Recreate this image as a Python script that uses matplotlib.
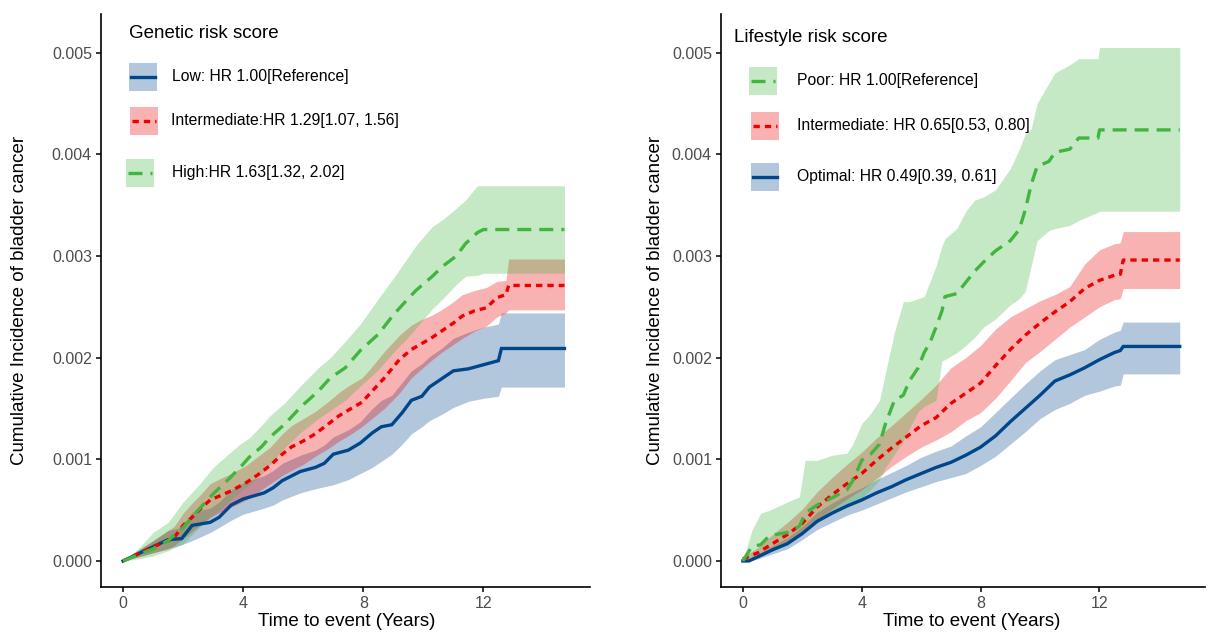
import matplotlib
matplotlib.use("Agg")
import matplotlib.pyplot as plt
from matplotlib.patches import Rectangle
from matplotlib.lines import Line2D

plt.rcParams['font.family'] = ['Liberation Sans', 'DejaVu Sans']

# colours (lancet palette)
BLUE = '#00468B'
RED = '#ED0000'
GREEN = '#42B540'

# ---- data, cumulative incidence in units of 0.001 ----
# Genetic risk score
gen_low_t = [0, 0.5, 1.0, 1.5, 1.95, 2.3, 2.9, 3.2, 3.6, 4.0, 4.7, 5.0, 5.3, 5.9, 6.4, 6.7,
             7.0, 7.5, 7.9, 8.3, 8.6, 8.95, 9.3, 9.6, 9.95, 10.2, 10.6, 11.0, 11.5, 12.0,
             12.5, 12.6, 14.7]
gen_low = [0, 0.07, 0.14, 0.21, 0.22, 0.35, 0.38, 0.43, 0.55, 0.61, 0.67, 0.72, 0.79, 0.88,
           0.92, 0.96, 1.05, 1.09, 1.16, 1.26, 1.32, 1.34, 1.46, 1.58, 1.62, 1.71, 1.79, 1.87,
           1.89, 1.93, 1.97, 2.09, 2.09]
gen_low_lo = [0, 0.04, 0.08, 0.12, 0.16, 0.20, 0.28, 0.33, 0.40, 0.46, 0.52, 0.55, 0.60, 0.67,
              0.71, 0.73, 0.75, 0.80, 0.86, 0.92, 0.98, 1.05, 1.15, 1.25, 1.32, 1.38, 1.44, 1.51,
              1.57, 1.60, 1.62, 1.71, 1.71]
gen_low_hi = [0, 0.11, 0.20, 0.30, 0.33, 0.48, 0.52, 0.58, 0.70, 0.77, 0.84, 0.89, 0.96, 1.04,
              1.09, 1.14, 1.22, 1.29, 1.37, 1.50, 1.58, 1.63, 1.76, 1.87, 1.94, 2.01, 2.09, 2.19,
              2.25, 2.30, 2.33, 2.44, 2.44]

gen_int_t = [0, 0.5, 1.0, 1.5, 1.7, 2.0, 2.3, 2.6, 2.9, 3.3, 3.6, 4.1, 4.5, 4.9, 5.3, 5.6, 6.0,
             6.4, 6.8, 7.2, 7.6, 7.95, 8.2, 8.7, 9.2, 9.6, 9.9, 10.3, 10.6, 11.0, 11.3, 11.7,
             12.1, 12.45, 12.75, 12.84, 14.7]
gen_int = [0, 0.07, 0.14, 0.20, 0.23, 0.35, 0.43, 0.52, 0.60, 0.65, 0.69, 0.77, 0.85, 0.94,
           1.05, 1.12, 1.18, 1.25, 1.34, 1.43, 1.50, 1.56, 1.64, 1.80, 1.98, 2.08, 2.13, 2.20,
           2.26, 2.34, 2.41, 2.46, 2.49, 2.59, 2.62, 2.71, 2.71]
gen_int_lo = [0, 0.04, 0.08, 0.12, 0.15, 0.22, 0.29, 0.36, 0.43, 0.49, 0.53, 0.60, 0.68, 0.76,
              0.84, 0.89, 0.95, 1.03, 1.10, 1.18, 1.25, 1.32, 1.38, 1.50, 1.65, 1.80, 1.88, 1.98,
              2.05, 2.13, 2.19, 2.26, 2.31, 2.40, 2.44, 2.47, 2.47]
gen_int_hi = [0, 0.10, 0.20, 0.30, 0.34, 0.47, 0.57, 0.66, 0.76, 0.82, 0.86, 0.94, 1.03, 1.12,
              1.25, 1.33, 1.40, 1.47, 1.56, 1.66, 1.74, 1.80, 1.88, 2.06, 2.22, 2.32, 2.37, 2.42,
              2.47, 2.55, 2.62, 2.66, 2.69, 2.75, 2.76, 2.97, 2.97]

gen_high_t = [0, 0.5, 1.0, 1.5, 2.0, 2.5, 3.0, 3.5, 3.9, 4.2, 4.6, 4.9, 5.4, 5.9, 6.5, 6.9,
              7.4, 7.9, 8.5, 9.0, 9.4, 9.75, 10.3, 10.65, 11.1, 11.4, 11.8, 12.0, 14.7]
gen_high = [0, 0.06, 0.12, 0.20, 0.33, 0.50, 0.66, 0.80, 0.92, 1.02, 1.12, 1.22, 1.35, 1.51,
            1.67, 1.80, 1.90, 2.07, 2.23, 2.42, 2.55, 2.66, 2.80, 2.90, 3.00, 3.12, 3.23, 3.26,
            3.26]
gen_high_lo = [0, 0.02, 0.05, 0.10, 0.17, 0.32, 0.45, 0.58, 0.68, 0.75, 0.85, 0.95, 1.12, 1.26,
               1.40, 1.48, 1.58, 1.72, 1.88, 2.05, 2.17, 2.29, 2.48, 2.58, 2.72, 2.80, 2.81, 2.83,
               2.83]
gen_high_hi = [0, 0.12, 0.28, 0.38, 0.58, 0.74, 0.92, 1.05, 1.15, 1.21, 1.33, 1.43, 1.56, 1.72,
               1.90, 2.00, 2.16, 2.33, 2.58, 2.78, 2.95, 3.10, 3.29, 3.36, 3.47, 3.55, 3.69, 3.69,
               3.69]

gen_labels = ['Low: HR 1.00[Reference]',
              'Intermediate:HR 1.29[1.07, 1.56]',
              'High:HR 1.63[1.32, 2.02]']

# Lifestyle risk score
life_opt_t = [0, 0.2, 0.5, 1, 1.5, 2, 2.5, 3, 3.5, 4, 4.5, 5, 5.5, 6, 6.5, 7, 7.5, 8, 8.5, 9,
              9.5, 10, 10.5, 11, 11.5, 12, 12.5, 12.7, 12.8, 14.7]
life_opt = [0, 0, 0.04, 0.11, 0.17, 0.27, 0.39, 0.47, 0.54, 0.60, 0.67, 0.73, 0.80, 0.86, 0.92,
            0.97, 1.04, 1.12, 1.23, 1.37, 1.50, 1.63, 1.77, 1.83, 1.90, 1.98, 2.05, 2.07, 2.11,
            2.11]
life_opt_lo = [0, 0, 0.02, 0.07, 0.12, 0.21, 0.31, 0.38, 0.45, 0.50, 0.56, 0.62, 0.68, 0.73,
               0.78, 0.82, 0.86, 0.94, 1.03, 1.15, 1.27, 1.40, 1.49, 1.55, 1.63, 1.67, 1.72,
               1.73, 1.84, 1.84]
life_opt_hi = [0, 0.02, 0.07, 0.15, 0.23, 0.34, 0.48, 0.57, 0.65, 0.72, 0.80, 0.87, 0.94, 1.02,
               1.08, 1.13, 1.23, 1.32, 1.46, 1.60, 1.74, 1.87, 1.98, 2.03, 2.08, 2.18, 2.25,
               2.27, 2.35, 2.35]

life_int_t = [0, 0.5, 1, 1.5, 2, 2.5, 3, 3.5, 4, 4.5, 5, 5.5, 6, 6.5, 7, 7.5, 8, 8.5, 9,
              9.5, 10, 10.5, 11, 11.5, 12, 12.5, 12.7, 12.8, 14.7]
life_int = [0.02, 0.08, 0.17, 0.26, 0.37, 0.53, 0.65, 0.76, 0.86, 0.99, 1.11, 1.22, 1.33, 1.41,
            1.55, 1.65, 1.75, 1.92, 2.08, 2.22, 2.34, 2.45, 2.55, 2.68, 2.76, 2.81, 2.82, 2.96,
            2.96]
life_int_lo = [0, 0.04, 0.10, 0.17, 0.26, 0.40, 0.51, 0.61, 0.70, 0.81, 0.93, 1.03, 1.12, 1.19,
               1.27, 1.38, 1.46, 1.60, 1.77, 1.95, 2.06, 2.18, 2.30, 2.40, 2.50, 2.57, 2.58,
               2.68, 2.68]
life_int_hi = [0.04, 0.13, 0.26, 0.38, 0.51, 0.68, 0.82, 0.95, 1.07, 1.21, 1.33, 1.46, 1.59,
               1.73, 1.90, 2.00, 2.12, 2.28, 2.40, 2.48, 2.56, 2.62, 2.70, 2.92, 3.06, 3.12,
               3.13, 3.24, 3.24]

life_poor_t = [0, 0.3, 0.6, 0.9, 1.5, 1.9, 2.1, 2.5, 3, 3.5, 3.7, 4, 4.3, 4.6, 4.8, 5.1, 5.4,
               5.6, 5.9, 6.1, 6.3, 6.5, 6.7, 6.8, 7.2, 7.5, 7.8, 8.1, 8.5, 9.0, 9.3, 9.5, 9.7,
               9.9, 10.3, 10.5, 11.0, 11.3, 11.95, 12.0, 14.7]
life_poor = [0, 0.14, 0.16, 0.25, 0.28, 0.34, 0.47, 0.55, 0.62, 0.70, 0.79, 0.99, 1.05, 1.15,
             1.35, 1.58, 1.63, 1.77, 1.90, 2.05, 2.15, 2.30, 2.46, 2.60, 2.63, 2.74, 2.85, 2.94,
             3.05, 3.15, 3.26, 3.45, 3.70, 3.88, 3.93, 4.02, 4.05, 4.16, 4.16, 4.24, 4.24]
life_poor_lo = [0, 0.03, 0.06, 0.10, 0.18, 0.27, 0.31, 0.40, 0.48, 0.55, 0.58, 0.62, 0.70, 0.80,
                0.92, 1.05, 1.18, 1.30, 1.47, 1.52, 1.55, 1.58, 1.97, 1.98, 2.05, 2.12, 2.20, 2.30,
                2.38, 2.52, 2.58, 2.65, 2.90, 3.15, 3.25, 3.27, 3.30, 3.35, 3.43, 3.44, 3.44]
life_poor_hi = [0, 0.30, 0.47, 0.50, 0.58, 0.63, 0.99, 0.99, 1.04, 1.06, 1.15, 1.35, 1.45, 1.58,
                1.85, 2.25, 2.55, 2.55, 2.58, 2.60, 2.75, 2.90, 3.10, 3.17, 3.27, 3.44, 3.55, 3.58,
                3.65, 3.86, 4.05, 4.20, 4.25, 4.50, 4.70, 4.80, 4.88, 4.94, 4.94, 5.05, 5.05]

life_labels = ['Poor: HR 1.00[Reference]',
               'Intermediate: HR 0.65[0.53, 0.80]',
               'Optimal: HR 0.49[0.39, 0.61]']

x_ticks = [0, 4, 8, 12]
y_ticks = [0.000, 0.001, 0.002, 0.003, 0.004, 0.005]

W, H = 1210, 632
fig = plt.figure(figsize=(W / 100, H / 100), dpi=100)


def fx(px):
    return px / W


def fy(py):
    return 1 - py / H


STYLE = {
    BLUE: dict(linestyle='-', lw=2.4),
    RED: dict(linestyle=(0, (1.9, 1.5)), lw=2.4),
    GREEN: dict(linestyle=(0, (4.2, 2.4)), lw=2.4),
}


def draw_curve(ax, t, y, lo, hi, color, z):
    s = 1e-3
    ax.fill_between(t, [v * s for v in lo], [v * s for v in hi],
                    color=color, alpha=0.3, lw=0, zorder=z)
    ax.plot(t, [v * s for v in y], color=color, zorder=z + 10,
            solid_joinstyle='miter', dash_capstyle='butt', **STYLE[color])


def style_axes(ax):
    ax.set_xlim(-0.735, 15.55)
    ax.set_ylim(-0.000256, 0.00538)
    ax.set_xticks(x_ticks)
    ax.set_xticklabels([str(v) for v in x_ticks])
    ax.set_yticks(y_ticks)
    ax.set_yticklabels(['%.3f' % v for v in y_ticks])
    for side in ['top', 'right']:
        ax.spines[side].set_visible(False)
    for side in ['left', 'bottom']:
        ax.spines[side].set_linewidth(1.2)
        ax.spines[side].set_color('black')
    ax.tick_params(length=3.5, width=1.1, color='black', labelsize=11.5,
                   labelcolor='#4D4D4D', pad=3)


def draw_legend(title, title_pos, entries):
    fig.text(fx(title_pos[0]), fy(title_pos[1]), title, fontsize=13.5,
             ha='left', va='center')
    for (x0, y0, color, lab, lx) in entries:
        fig.patches.append(Rectangle((fx(x0), fy(y0 + 28)), 28 / W, 28 / H,
                                     transform=fig.transFigure, facecolor=color,
                                     alpha=0.3, lw=0))
        yc = fy(y0 + 14)
        fig.lines.append(Line2D([fx(x0 + 2), fx(x0 + 26)], [yc, yc],
                                transform=fig.transFigure, color=color,
                                dash_capstyle='butt', **STYLE[color]))
        fig.text(fx(lx), yc, lab, fontsize=11.3, ha='left', va='center')


# left panel
ax1 = fig.add_axes([fx(101), fy(587), fx(590) - fx(101), fy(14) - fy(587)])
draw_curve(ax1, gen_low_t, gen_low, gen_low_lo, gen_low_hi, BLUE, 1)
draw_curve(ax1, gen_int_t, gen_int, gen_int_lo, gen_int_hi, RED, 2)
draw_curve(ax1, gen_high_t, gen_high, gen_high_lo, gen_high_hi, GREEN, 3)
style_axes(ax1)

# right panel
ax2 = fig.add_axes([fx(721), fy(587), fx(1205) - fx(721), fy(14) - fy(587)])
draw_curve(ax2, life_opt_t, life_opt, life_opt_lo, life_opt_hi, BLUE, 1)
draw_curve(ax2, life_int_t, life_int, life_int_lo, life_int_hi, RED, 2)
draw_curve(ax2, life_poor_t, life_poor, life_poor_lo, life_poor_hi, GREEN, 3)
style_axes(ax2)

# axis titles
ylab = 'Cumulative Incidence of bladder cancer'
fig.text(fx(20), fy(300), ylab, rotation=90, fontsize=13.5, ha='center', va='center')
fig.text(fx(656), fy(300), ylab, rotation=90, fontsize=13.5, ha='center', va='center')
fig.text(fx(347), fy(621), 'Time to event (Years)', fontsize=13.5, ha='center', va='center')
fig.text(fx(972), fy(621), 'Time to event (Years)', fontsize=13.5, ha='center', va='center')

# legends
draw_legend('Genetic risk score', (129, 33), [
    (129, 63, BLUE, gen_labels[0], 172),
    (130, 107, RED, gen_labels[1], 171),
    (126, 159, GREEN, gen_labels[2], 172),
])
draw_legend('Lifestyle risk score', (734, 37), [
    (749, 67, GREEN, life_labels[0], 797),
    (751, 112, RED, life_labels[1], 797),
    (751, 163, BLUE, life_labels[2], 797),
])

fig.savefig('out.png', dpi=100)
